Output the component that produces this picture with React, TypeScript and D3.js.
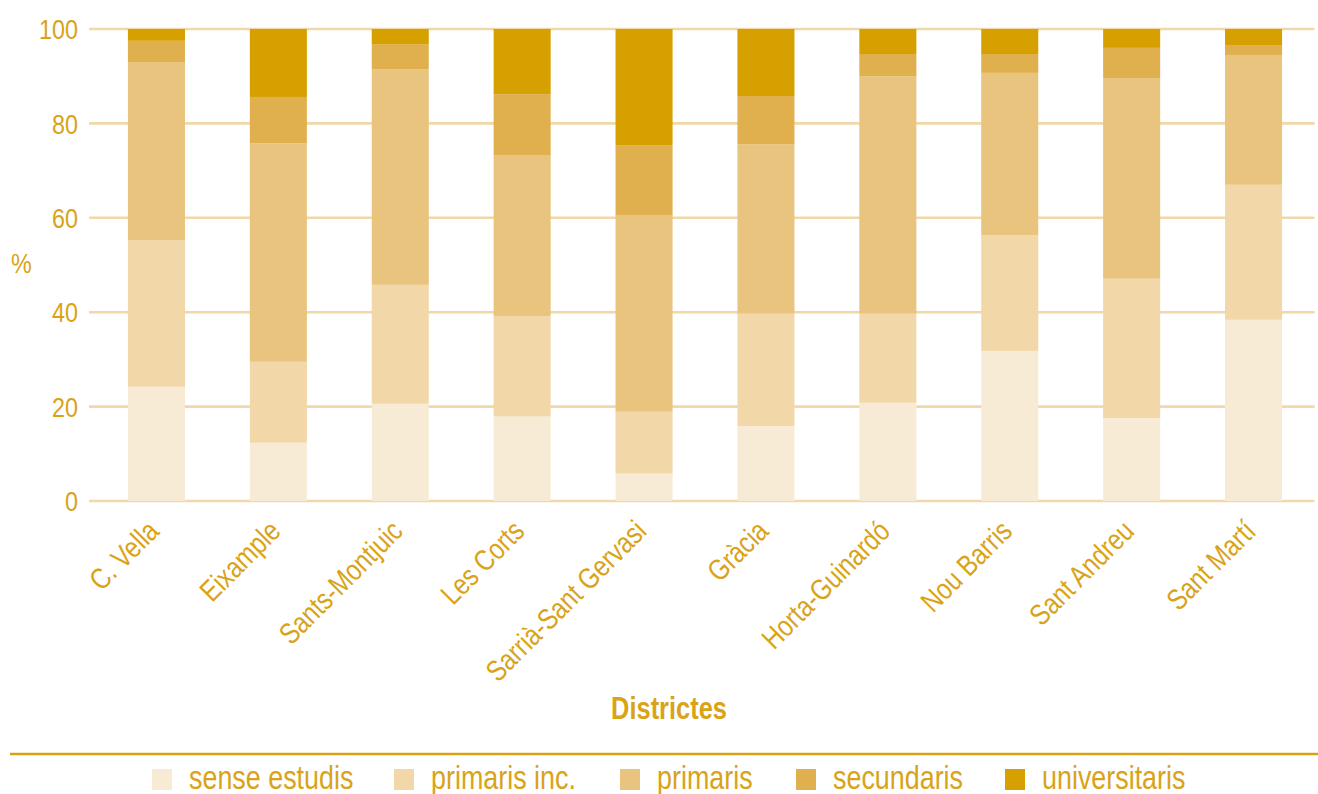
import React from 'react';
import * as d3 from 'd3';

const districts = ['C. Vella', 'Eixample', 'Sants-Montjuic', 'Les Corts', 'Sarrià-Sant Gervasi', 'Gràcia', 'Horta-Guinardó', 'Nou Barris', 'Sant Andreu', 'Sant Martí'];
const senseEstudis = [24.2, 12.35, 20.6, 17.9, 5.8, 15.9, 20.8, 31.8, 17.6, 38.4];
const primarisInc = [31.1, 17.15, 25.2, 21.3, 13.1, 23.8, 18.9, 24.5, 29.5, 28.6];
const primaris = [37.7, 46.3, 45.7, 34.1, 41.7, 35.9, 50.3, 34.4, 42.5, 27.5];
const secundaris = [4.5, 9.8, 5.3, 12.9, 14.8, 10.2, 4.7, 4.0, 6.4, 2.1];
const universitaris = [2.5, 14.4, 3.2, 13.8, 24.6, 14.2, 5.3, 5.3, 4.0, 3.4];

const seriesNames = ['sense estudis', 'primaris inc.', 'primaris', 'secundaris', 'universitaris'];
const seriesColors = ['#f7ebd5', '#f2d7a8', '#e9c47e', '#e1b04e', '#d6a000'];
const yTicks = [0, 20, 40, 60, 80, 100];
const legendX = [152, 394, 620, 796, 1005];

const W = 1318;
const H = 794;
const TEXT = '#d9a318';
const FONT = '"Liberation Sans", Arial, sans-serif';
const NARROW = 0.82;

export default function App() {
  const seriesValues = [senseEstudis, primarisInc, primaris, secundaris, universitaris];
  const table = districts.map((d, i) => {
    const row: any = { district: d };
    seriesNames.forEach((s, k) => (row[s] = seriesValues[k][i]));
    return row;
  });
  const stacked = d3.stack().keys(seriesNames)(table);

  const x = d3.scaleBand<string>().domain(districts).range([95.5, 1314.5]).paddingInner(0.532).paddingOuter(0.266);
  const y = d3.scaleLinear().domain([0, 100]).range([501, 29]);

  return (
    <svg width={W} height={H} style={{ position: 'absolute', left: 0, top: 0, background: '#fff' }} fontFamily={FONT}>
      {yTicks.map((t) => (
        <g key={t}>
          <line x1={89} x2={1314.5} y1={y(t)} y2={y(t)} stroke="#f1d8a8" strokeWidth={2.6} />
          <text transform={`translate(78,${y(t)}) scale(${NARROW},1)`} dy="0.36em" textAnchor="end" fill={TEXT} fontSize={28.5}>
            {t}
          </text>
        </g>
      ))}
      <text transform={`translate(21.5,263) scale(${NARROW},1)`} dy="0.36em" textAnchor="middle" fill={TEXT} fontSize={28.5}>%</text>
      {stacked.map((layer, k) => (
        <g key={layer.key} fill={seriesColors[k]}>
          {layer.map((d, i) => (
            <rect
              key={i}
              x={x(districts[i])}
              width={x.bandwidth()}
              y={y(d[1])}
              height={y(d[0]) - y(d[1])}
            />
          ))}
        </g>
      ))}
      {districts.map((d) => (
        <text
          key={d}
          transform={`translate(${(x(d) as number) + x.bandwidth() / 2 + 4},${533}) rotate(-45) scale(${NARROW},1)`}
          textAnchor="end"
          fill={TEXT}
          fontSize={29.5}
        >
          {d}
        </text>
      ))}
      <text transform={`translate(669,719) scale(${NARROW},1)`} textAnchor="middle" fill={TEXT} fontSize={31} fontWeight="bold">Districtes</text>
      <line x1={10} x2={1318} y1={754} y2={754} stroke="#d8a312" strokeWidth={2.6} />
      {seriesNames.map((s, k) => (
        <g key={s}>
          <rect x={legendX[k]} y={769} width={20} height={21} fill={seriesColors[k]} />
          <text transform={`translate(${legendX[k] + 37},788.5) scale(${NARROW},1)`} fill={TEXT} fontSize={32.8}>{s}</text>
        </g>
      ))}
    </svg>
  );
}
